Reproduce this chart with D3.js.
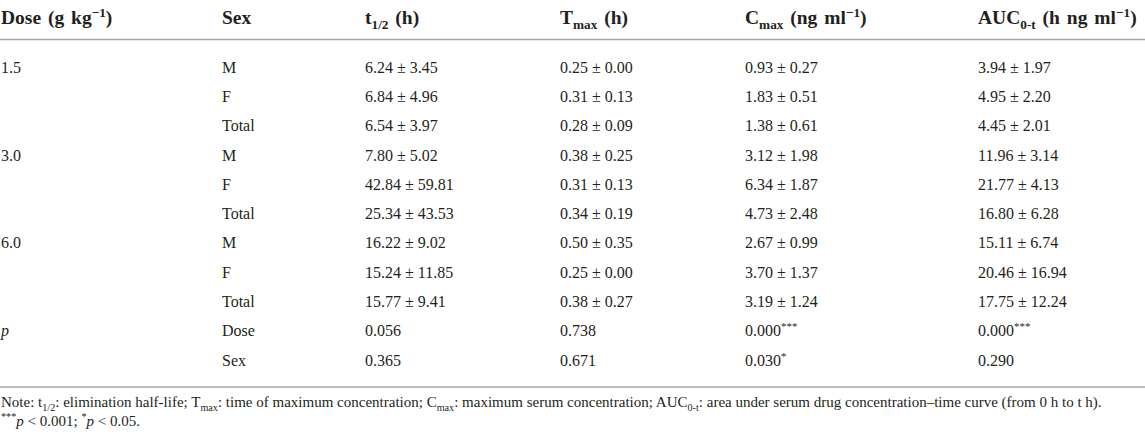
<!DOCTYPE html>
<html>
<head>
<meta charset="utf-8">
<script src="https://cdn.jsdelivr.net/npm/d3@7"></script>
<style>
  body { margin: 0; background: #fff; }
  svg { display: block; }
  text { font-family: "Liberation Serif", "Times New Roman", serif; fill: #231f20; }
</style>
</head>
<body>
<div id="table"></div>
<script>
// table data
var doses = ["1.5", "3.0", "6.0"];
var sexes = ["M", "F", "Total"];
var t12 = ["6.24 ± 3.45", "6.84 ± 4.96", "6.54 ± 3.97",
           "7.80 ± 5.02", "42.84 ± 59.81", "25.34 ± 43.53",
           "16.22 ± 9.02", "15.24 ± 11.85", "15.77 ± 9.41"];
var tmax = ["0.25 ± 0.00", "0.31 ± 0.13", "0.28 ± 0.09",
            "0.38 ± 0.25", "0.31 ± 0.13", "0.34 ± 0.19",
            "0.50 ± 0.35", "0.25 ± 0.00", "0.38 ± 0.27"];
var cmax = ["0.93 ± 0.27", "1.83 ± 0.51", "1.38 ± 0.61",
            "3.12 ± 1.98", "6.34 ± 1.87", "4.73 ± 2.48",
            "2.67 ± 0.99", "3.70 ± 1.37", "3.19 ± 1.24"];
var auc = ["3.94 ± 1.97", "4.95 ± 2.20", "4.45 ± 2.01",
           "11.96 ± 3.14", "21.77 ± 4.13", "16.80 ± 6.28",
           "15.11 ± 6.74", "20.46 ± 16.94", "17.75 ± 12.24"];
var pFactors = ["Dose", "Sex"];
var pT12 = ["0.056", "0.365"];
var pTmax = ["0.738", "0.671"];
var pCmax = [["0.000", "***"], ["0.030", "*"]];
var pAuc = [["0.000", "***"], ["0.290", ""]];

// header labels as [text, kind] segments
var headers = [
  [["Dose (g kg", "n"], ["−1", "sup"], [")", "n"]],
  [["Sex", "n"]],
  [["t", "n"], ["1/2", "sub"], [" (h)", "n"]],
  [["T", "n"], ["max", "sub"], [" (h)", "n"]],
  [["C", "n"], ["max", "sub"], [" (ng ml", "n"], ["−1", "sup"], [")", "n"]],
  [["AUC", "n"], ["0-t", "sub"], [" (h ng ml", "n"], ["−1", "sup"], [")", "n"]]
];

var notes = [
  [["Note: t", "n"], ["1/2", "sub"], [": elimination half-life; T", "n"], ["max", "sub"],
   [": time of maximum concentration; C", "n"], ["max", "sub"],
   [": maximum serum concentration; AUC", "n"], ["0-t", "sub"],
   [": area under serum drug concentration–time curve (from 0 h to t h).", "n"]],
  [["***", "sup"], ["p", "i"], [" < 0.001; ", "n"], ["*", "sup"], ["p", "i"], [" < 0.05.", "n"]]
];

// build row cells
var rows = [];
doses.forEach(function (dose, i) {
  sexes.forEach(function (sex, j) {
    var k = i * 3 + j;
    rows.push([
      j === 0 ? [[dose, "n"]] : [],
      [[sex, "n"]],
      [[t12[k], "n"]],
      [[tmax[k], "n"]],
      [[cmax[k], "n"]],
      [[auc[k], "n"]]
    ]);
  });
});
pFactors.forEach(function (f, i) {
  rows.push([
    i === 0 ? [["p", "i"]] : [],
    [[f, "n"]],
    [[pT12[i], "n"]],
    [[pTmax[i], "n"]],
    [[pCmax[i][0], "n"], [pCmax[i][1], "sup"]],
    [[pAuc[i][0], "n"], [pAuc[i][1], "sup"]]
  ]);
});

var width = 1145, height = 434;

var svg = d3.select("#table")
  .append("svg")
  .attr("width", width)
  .attr("height", height);

// column positions (layout)
var colEdges = [1, 222, 365, 560, 745, 978];
var x = d3.scaleOrdinal().domain(d3.range(6)).range(colEdges);
var y = d3.scalePoint()
  .domain(d3.range(rows.length))
  .range([67, 360]);

function rich(sel, segs, size) {
  var shift = 0;
  segs.forEach(function (s) {
    if (!s[0]) return;
    var t = sel.append("tspan").text(s[0]);
    var target = 0;
    if (s[1] === "sub") {
      target = size * 0.28;
      t.attr("font-size", size * 0.68);
    } else if (s[1] === "sup") {
      target = -size * 0.38;
      t.attr("font-size", size * 0.68);
    } else if (s[1] === "i") {
      t.attr("font-style", "italic");
    }
    if (target !== shift) {
      t.attr("dy", target - shift);
      shift = target;
    }
  });
}

// header
svg.append("g")
  .selectAll("text")
  .data(headers)
  .join("text")
  .attr("x", function (d, i) { return x(i); })
  .attr("y", 24)
  .attr("font-size", 19.5)
  .attr("font-weight", "bold")
  .attr("word-spacing", 2)
  .each(function (d) { rich(d3.select(this), d, 19.5); });

// rules
svg.selectAll("line.rule")
  .data([39.5, 387])
  .join("line")
  .attr("class", "rule")
  .attr("x1", 0)
  .attr("x2", width)
  .attr("y1", function (d) { return d; })
  .attr("y2", function (d) { return d; })
  .attr("stroke", "#a6a6a6")
  .attr("stroke-width", 1.5);

// body
var rowG = svg.append("g")
  .selectAll("g")
  .data(rows)
  .join("g")
  .attr("transform", function (d, i) { return "translate(0," + y(i) + ")"; });

rowG.selectAll("text")
  .data(function (d) { return d; })
  .join("text")
  .attr("x", function (d, i) { return x(i); })
  .attr("dy", "0.35em")
  .attr("font-size", 16)
  .each(function (d) { rich(d3.select(this), d, 16); });

// notes
svg.append("g")
  .selectAll("text")
  .data(notes)
  .join("text")
  .attr("x", 1)
  .attr("y", function (d, i) { return 407 + i * 19; })
  .attr("font-size", 15)
  .each(function (d) { rich(d3.select(this), d, 15); });
</script>
</body>
</html>
